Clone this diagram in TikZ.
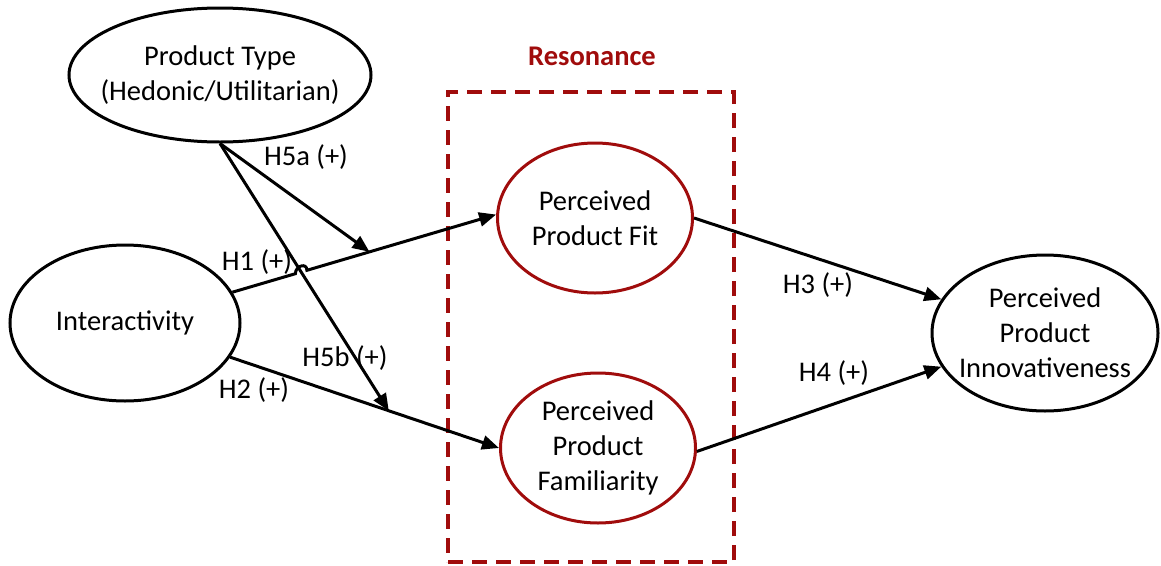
\documentclass[tikz,border=0pt]{standalone}
\usepackage{fontspec}
\setmainfont{Carlito}
\usetikzlibrary{shapes.geometric,arrows.meta,calc}
\definecolor{dred}{RGB}{160,12,12}
\begin{document}
\begin{tikzpicture}[x=1pt,y=-1pt,
  txt/.style={font=\fontsize{28.5}{35}\selectfont,align=center,inner sep=0pt},
  ell/.style={ellipse,draw,line width=3pt,inner sep=0pt},
  rell/.style={ell,draw=dred},
  conn/.style={line width=3pt,-{Triangle[length=17pt,width=14pt]}},
  resbox/.style={draw=dred,line width=3.5pt,dash pattern=on 15pt off 9pt,inner sep=0pt}]
\useasboundingbox (0,0) rectangle (1161,565);
% dashed resonance box
\node[resbox,minimum width=286pt,minimum height=470pt] (box) at (591,327) {};
\node[txt,text=dred,font=\fontsize{28.5}{35}\selectfont\bfseries] (res) at (592,56) {Resonance};
% ellipses
\node[ell,minimum width=302pt,minimum height=134pt] (pt) at (220,75) {};
\node[txt] (ptt) at (pt.center) {Product Type\\(Hedonic/Utilitarian)};
\node[ell,minimum width=230pt,minimum height=156pt] (inter) at (125,323) {};
\node[txt] (intert) at (inter.center) {Interactivity};
\node[rell,minimum width=195pt,minimum height=150pt] (fit) at (595,218) {};
\node[txt] (fitt) at (fit.center) {Perceived\\Product Fit};
\node[rell,minimum width=195pt,minimum height=150pt] (fam) at (598,448) {};
\node[txt] (famt) at (fam.center) {Perceived\\Product\\Familiarity};
\node[ell,minimum width=226pt,minimum height=156pt] (inno) at (1045,333) {};
\node[txt] (innot) at (inno.center) {Perceived\\Product\\Innovativeness};
% connector endpoints
\coordinate (a1) at (inter.16);
\coordinate (b1) at (fit.178);
\coordinate (a2) at (inter.-18.6);
\coordinate (b2) at (fam.west);
\coordinate (h5aend) at ($(a1)!0.52!(b1)$);
\coordinate (h5bend) at ($(a2)!0.59!(b2)$);
\coordinate (X) at (intersection of a1--b1 and pt.south--h5bend);
% connectors
\draw[conn] (pt.south) -- (h5aend);
\draw[conn] (pt.south) -- (h5bend);
\draw[conn] (a1) -- ($(X)!6pt!(a1)$)
  .. controls ($(X)!6pt!(a1)+(0,-8)$) and ($(X)!6pt!(b1)+(0,-8)$) .. ($(X)!6pt!(b1)$) -- (b1);
\draw[conn] (a2) -- (b2);
\draw[conn] (fit.east) -- (inno.162);
\draw[conn] (fam.-2) -- (inno.198);
% labels
\node[txt] (l5a) at (306,157) {H5a (+)};
\node[txt] (l1) at (257,262) {H1 (+)};
\node[txt] (l5b) at (345,358) {H5b (+)};
\node[txt] (l2) at (254,390) {H2 (+)};
\node[txt] (l3) at (818,285) {H3 (+)};
\node[txt] (l4) at (834,373) {H4 (+)};
\end{tikzpicture}
\end{document}
